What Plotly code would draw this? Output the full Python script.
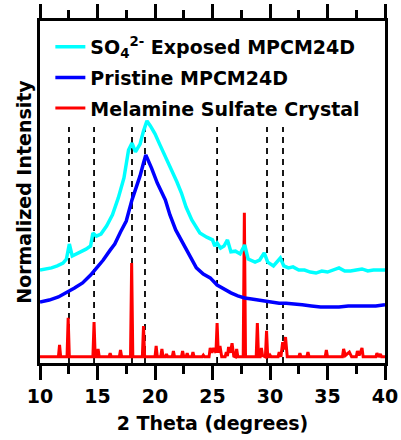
import plotly.graph_objects as go

# ---------------- data ----------------
# Melamine sulfate crystal (red)
red_x = [10.0, 11.6, 11.7, 11.8, 12.35, 12.45, 12.55, 14.6, 14.7, 14.8, 14.95, 15.05, 15.15,
         16.0, 16.1, 16.2, 16.9, 17.0, 17.1, 17.87, 17.97, 18.07, 18.9, 19.0, 19.1,
         20.0, 20.1, 20.2, 20.5, 20.6, 20.7, 20.9, 21.0, 21.1, 21.5, 21.6, 21.7,
         22.3, 22.4, 22.5, 22.7, 22.8, 22.9, 23.2, 23.3, 23.4, 24.1, 24.2, 24.3,
         24.7, 24.8, 24.95, 25.1, 25.3, 25.4, 25.5, 25.65, 25.8, 26.1, 26.2, 26.3, 26.4, 26.55,
         26.7, 26.85, 27.0, 27.1, 27.2, 27.67, 27.77, 27.87, 28.8, 28.9, 29.0, 29.15, 29.25, 29.35,
         29.6, 29.7, 29.8, 29.9, 30.0, 30.1, 30.7, 30.8, 30.95, 31.1, 31.25, 31.35, 31.5,
         32.5, 32.6, 32.7, 33.2, 33.3, 33.4, 34.8, 34.9, 35.0, 36.3, 36.4, 36.55, 36.9, 37.1,
         37.5, 37.6, 37.75, 38.0, 38.1, 39.2, 39.3, 39.45, 39.6, 39.7, 40.0]
red_y = [0.018, 0.018, 0.053, 0.018, 0.018, 0.132, 0.018, 0.018, 0.120, 0.018, 0.018, 0.041, 0.018,
         0.018, 0.029, 0.018, 0.018, 0.038, 0.018, 0.018, 0.292, 0.018, 0.018, 0.108, 0.018,
         0.018, 0.050, 0.018, 0.018, 0.041, 0.018, 0.018, 0.026, 0.018, 0.018, 0.035, 0.018,
         0.018, 0.035, 0.018, 0.018, 0.029, 0.018, 0.018, 0.032, 0.018, 0.018, 0.023, 0.018,
         0.018, 0.044, 0.030, 0.044, 0.030, 0.117, 0.030, 0.050, 0.018, 0.018, 0.032, 0.020, 0.047, 0.030,
         0.058, 0.020, 0.018, 0.041, 0.018, 0.018, 0.439, 0.018, 0.018, 0.117, 0.018, 0.018, 0.044, 0.022,
         0.018, 0.094, 0.018, 0.018, 0.023, 0.018, 0.018, 0.032, 0.018, 0.061, 0.040, 0.076, 0.018,
         0.018, 0.029, 0.018, 0.018, 0.032, 0.018, 0.018, 0.038, 0.018, 0.018, 0.041, 0.022, 0.032, 0.018,
         0.018, 0.035, 0.022, 0.044, 0.018, 0.018, 0.029, 0.018, 0.026, 0.018, 0.018]

# Pristine MPCM24D (blue)
blue_x = [10.0, 10.8, 11.6, 12.3, 13.0, 13.7, 14.4, 15.0, 15.5, 16.1, 16.5, 17.0, 17.5, 18.0,
          18.4, 18.7, 19.0, 19.2, 19.7, 20.2, 20.9, 21.3, 21.8, 22.4, 23.0, 23.6, 24.2, 24.8,
          25.4, 26.0, 26.6, 27.2, 27.8, 28.4, 29.0, 29.6, 30.2, 30.8, 31.4, 32.0, 32.8, 33.6,
          34.4, 35.2, 36.0, 36.8, 37.6, 38.4, 39.2, 40.0]
blue_y = [0.178, 0.184, 0.193, 0.205, 0.219, 0.234, 0.257, 0.281, 0.301, 0.330, 0.348, 0.383,
          0.415, 0.477, 0.515, 0.547, 0.585, 0.608, 0.570, 0.526, 0.477, 0.433, 0.389, 0.351,
          0.313, 0.278, 0.260, 0.249, 0.228, 0.216, 0.205, 0.196, 0.190, 0.187, 0.184, 0.181,
          0.178, 0.175, 0.175, 0.172, 0.170, 0.167, 0.164, 0.164, 0.164, 0.167, 0.167, 0.167,
          0.167, 0.170]

# SO4^2- exposed MPCM24D (cyan)
cyan_x = [10.0, 10.5, 11.0, 11.5, 12.0, 12.3, 12.55, 12.8, 13.2, 13.6, 14.0, 14.4, 14.6, 14.9,
          15.3, 15.8, 16.3, 16.8, 17.3, 17.7, 18.0, 18.3, 18.7, 19.0, 19.3, 19.6, 20.0, 20.4,
          20.9, 21.4, 21.9, 22.3, 22.7, 23.2, 23.9, 24.5, 25.0, 25.2, 25.4, 25.7, 26.0, 26.3,
          26.6, 27.0, 27.4, 27.8, 28.1, 28.7, 29.1, 29.5, 29.8, 30.3, 30.9, 31.2, 31.6, 32.0,
          32.5, 33.0, 33.5, 34.0, 34.5, 35.0, 35.5, 36.0, 36.5, 37.0, 37.5, 38.0, 38.5, 39.0,
          39.5, 40.0]
cyan_y = [0.272, 0.275, 0.278, 0.284, 0.292, 0.304, 0.348, 0.313, 0.319, 0.325, 0.333, 0.342,
          0.380, 0.371, 0.377, 0.401, 0.433, 0.482, 0.541, 0.623, 0.643, 0.617, 0.640, 0.678,
          0.708, 0.693, 0.670, 0.640, 0.605, 0.568, 0.530, 0.497, 0.456, 0.418, 0.380, 0.368,
          0.360, 0.342, 0.351, 0.336, 0.342, 0.360, 0.325, 0.327, 0.319, 0.345, 0.304, 0.295,
          0.301, 0.322, 0.295, 0.284, 0.307, 0.284, 0.278, 0.281, 0.272, 0.272, 0.266, 0.263,
          0.269, 0.266, 0.272, 0.278, 0.269, 0.269, 0.272, 0.275, 0.269, 0.272, 0.272, 0.272]

# reference (dashed) line positions
ref_lines = [12.52, 14.7, 18.0, 19.13, 25.4, 29.74, 31.13]
ref_top = 0.69

names = ["Melamine Sulfate Crystal", "Pristine MPCM24D", "SO<sub>4</sub><sup>2-</sup> Exposed MPCM24D"]
colors = ["#FF0000", "#0000FF", "#00FFFF"]
widths = [3, 3.5, 3.5]
ranks = [3, 2, 1]

x_ticks = [10, 15, 20, 25, 30, 35, 40]

# ---------------- figure ----------------
fig = go.Figure()
for i, (xs, ys) in enumerate([(red_x, red_y), (blue_x, blue_y), (cyan_x, cyan_y)]):
    fig.add_trace(go.Scatter(x=xs, y=ys, mode="lines", name=names[i], legendgroup=f"g{i}",
                             legendrank=ranks[i],
                             line=dict(color=colors[i], width=widths[i])))

for xv in ref_lines:
    fig.add_shape(type="line", x0=xv, x1=xv, y0=0, y1=ref_top, xref="x", yref="y",
                  line=dict(color="black", width=1.8, dash="6px,5px"), layer="below")

font_family = "DejaVu Sans, sans-serif"
bold = dict(family=font_family, size=19, color="black", weight="bold")
fig.update_layout(
    width=401, height=440,
    margin=dict(l=40, r=16, t=21, b=77, autoexpand=False),
    paper_bgcolor="white", plot_bgcolor="white",
    showlegend=True,
    legend=dict(x=0.03, y=0.98, xanchor="left", yanchor="top",
                traceorder="grouped", bgcolor="rgba(0,0,0,0)",
                font=bold, itemwidth=30, tracegroupgap=3),
    font=dict(family=font_family, color="black"),
)
fig.update_xaxes(
    range=[10, 40], tickvals=x_ticks, ticktext=[str(t) for t in x_ticks],
    ticks="outside", ticklen=14, tickwidth=3, tickcolor="black",
    showline=True, linewidth=3, linecolor="black", mirror="allticks",
    showgrid=False, zeroline=False, automargin=False,
    tickfont=bold,
    minor=dict(dtick=2.5, tick0=10, ticks="outside", ticklen=8, tickwidth=3, tickcolor="black", showgrid=False),
    title=dict(text="2 Theta (degrees)", standoff=11, font=bold),
)
fig.update_yaxes(
    range=[0, 1], showticklabels=False, ticks="",
    showline=True, linewidth=3, linecolor="black", mirror=True,
    showgrid=False, zeroline=False, automargin=False,
    title=dict(text="Normalized Intensity", standoff=1, font=bold),
)

fig.write_html("out.html")
